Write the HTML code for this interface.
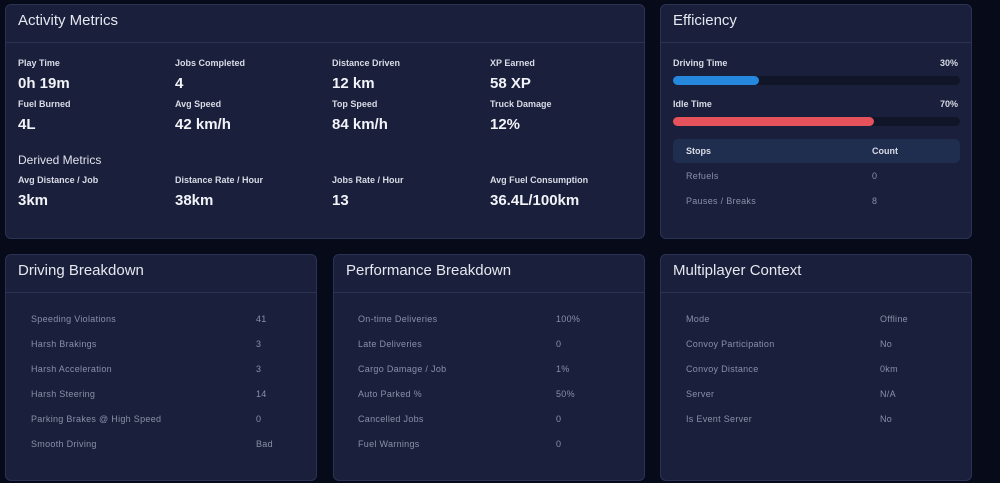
<!DOCTYPE html>
<html><head><style>
*{margin:0;padding:0;box-sizing:border-box}
body{width:1000px;height:483px;background:#070a19;font-family:"Liberation Sans",sans-serif;position:relative;overflow:hidden;color:#e8eaf2}
.card{position:absolute;background:#1a1f3b;border:1px solid #2b3254;border-radius:6px}
.hd{position:absolute;left:0;right:0;top:0;border-bottom:1px solid #2b3254}
.ttl{position:absolute;font-size:15px;color:#e6e8f0}
.t{position:absolute;white-space:nowrap}
.lb{font-size:9px;font-weight:bold;color:#d8dbe6}
.vl{font-size:15px;font-weight:bold;color:#f2f3f8}
.rl{font-size:9px;color:#8a90a8;letter-spacing:.3px}
</style></head><body>
<div class="card" style="left:5px;top:4px;width:640px;height:235px"><div class="hd" style="height:38px"></div><div class="ttl" style="left:12px;top:7px">Activity Metrics</div></div>
<div class="card" style="left:660px;top:4px;width:312px;height:235px"><div class="hd" style="height:38px"></div><div class="ttl" style="left:12px;top:7px">Efficiency</div></div>
<div class="card" style="left:5px;top:254px;width:312px;height:227px"><div class="hd" style="height:38px"></div><div class="ttl" style="left:12px;top:7px">Driving Breakdown</div></div>
<div class="card" style="left:333px;top:254px;width:312px;height:227px"><div class="hd" style="height:38px"></div><div class="ttl" style="left:12px;top:7px">Performance Breakdown</div></div>
<div class="card" style="left:660px;top:254px;width:312px;height:227px"><div class="hd" style="height:38px"></div><div class="ttl" style="left:12px;top:7px">Multiplayer Context</div></div>

<div class="t lb" style="left:18px;top:58px">Play Time</div><div class="t vl" style="left:18px;top:75px">0h 19m</div>
<div class="t lb" style="left:175px;top:58px">Jobs Completed</div><div class="t vl" style="left:175px;top:75px">4</div>
<div class="t lb" style="left:332px;top:58px">Distance Driven</div><div class="t vl" style="left:332px;top:75px">12 km</div>
<div class="t lb" style="left:490px;top:58px">XP Earned</div><div class="t vl" style="left:490px;top:75px">58 XP</div>
<div class="t lb" style="left:18px;top:99px">Fuel Burned</div><div class="t vl" style="left:18px;top:116px">4L</div>
<div class="t lb" style="left:175px;top:99px">Avg Speed</div><div class="t vl" style="left:175px;top:116px">42 km/h</div>
<div class="t lb" style="left:332px;top:99px">Top Speed</div><div class="t vl" style="left:332px;top:116px">84 km/h</div>
<div class="t lb" style="left:490px;top:99px">Truck Damage</div><div class="t vl" style="left:490px;top:116px">12%</div>
<div class="t" style="left:18px;top:153px;font-size:12px;color:#e0e3ee">Derived Metrics</div>
<div class="t lb" style="left:18px;top:175px">Avg Distance / Job</div><div class="t vl" style="left:18px;top:192px">3km</div>
<div class="t lb" style="left:175px;top:175px">Distance Rate / Hour</div><div class="t vl" style="left:175px;top:192px">38km</div>
<div class="t lb" style="left:332px;top:175px">Jobs Rate / Hour</div><div class="t vl" style="left:332px;top:192px">13</div>
<div class="t lb" style="left:490px;top:175px">Avg Fuel Consumption</div><div class="t vl" style="left:490px;top:192px">36.4L/100km</div>

<div class="t lb" style="left:673px;top:58px">Driving Time</div><div class="t lb" style="left:940px;top:58px">30%</div>
<div style="position:absolute;left:673px;top:76px;width:287px;height:9px;border-radius:5px;background:#101627"><div style="width:86px;height:9px;border-radius:5px;background:#2688dc"></div></div>
<div class="t lb" style="left:673px;top:99px">Idle Time</div><div class="t lb" style="left:940px;top:99px">70%</div>
<div style="position:absolute;left:673px;top:117px;width:287px;height:9px;border-radius:5px;background:#101627"><div style="width:201px;height:9px;border-radius:5px;background:#e5525b"></div></div>
<div style="position:absolute;left:673px;top:139px;width:287px;height:24px;border-radius:5px;background:#1f2d4e"></div>
<div class="t lb" style="left:686px;top:146px">Stops</div><div class="t lb" style="left:872px;top:146px">Count</div>
<div class="t rl" style="left:686px;top:171px">Refuels</div><div class="t rl" style="left:872px;top:171px">0</div>
<div class="t rl" style="left:686px;top:196px">Pauses / Breaks</div><div class="t rl" style="left:872px;top:196px">8</div>

<div class="t rl" style="left:31px;top:314px">Speeding Violations</div><div class="t rl" style="left:256px;top:314px">41</div>
<div class="t rl" style="left:31px;top:339px">Harsh Brakings</div><div class="t rl" style="left:256px;top:339px">3</div>
<div class="t rl" style="left:31px;top:364px">Harsh Acceleration</div><div class="t rl" style="left:256px;top:364px">3</div>
<div class="t rl" style="left:31px;top:389px">Harsh Steering</div><div class="t rl" style="left:256px;top:389px">14</div>
<div class="t rl" style="left:31px;top:414px">Parking Brakes @ High Speed</div><div class="t rl" style="left:256px;top:414px">0</div>
<div class="t rl" style="left:31px;top:439px">Smooth Driving</div><div class="t rl" style="left:256px;top:439px">Bad</div>

<div class="t rl" style="left:358px;top:314px">On-time Deliveries</div><div class="t rl" style="left:556px;top:314px">100%</div>
<div class="t rl" style="left:358px;top:339px">Late Deliveries</div><div class="t rl" style="left:556px;top:339px">0</div>
<div class="t rl" style="left:358px;top:364px">Cargo Damage / Job</div><div class="t rl" style="left:556px;top:364px">1%</div>
<div class="t rl" style="left:358px;top:389px">Auto Parked %</div><div class="t rl" style="left:556px;top:389px">50%</div>
<div class="t rl" style="left:358px;top:414px">Cancelled Jobs</div><div class="t rl" style="left:556px;top:414px">0</div>
<div class="t rl" style="left:358px;top:439px">Fuel Warnings</div><div class="t rl" style="left:556px;top:439px">0</div>

<div class="t rl" style="left:686px;top:314px">Mode</div><div class="t rl" style="left:880px;top:314px">Offline</div>
<div class="t rl" style="left:686px;top:339px">Convoy Participation</div><div class="t rl" style="left:880px;top:339px">No</div>
<div class="t rl" style="left:686px;top:364px">Convoy Distance</div><div class="t rl" style="left:880px;top:364px">0km</div>
<div class="t rl" style="left:686px;top:389px">Server</div><div class="t rl" style="left:880px;top:389px">N/A</div>
<div class="t rl" style="left:686px;top:414px">Is Event Server</div><div class="t rl" style="left:880px;top:414px">No</div>
</body></html>
